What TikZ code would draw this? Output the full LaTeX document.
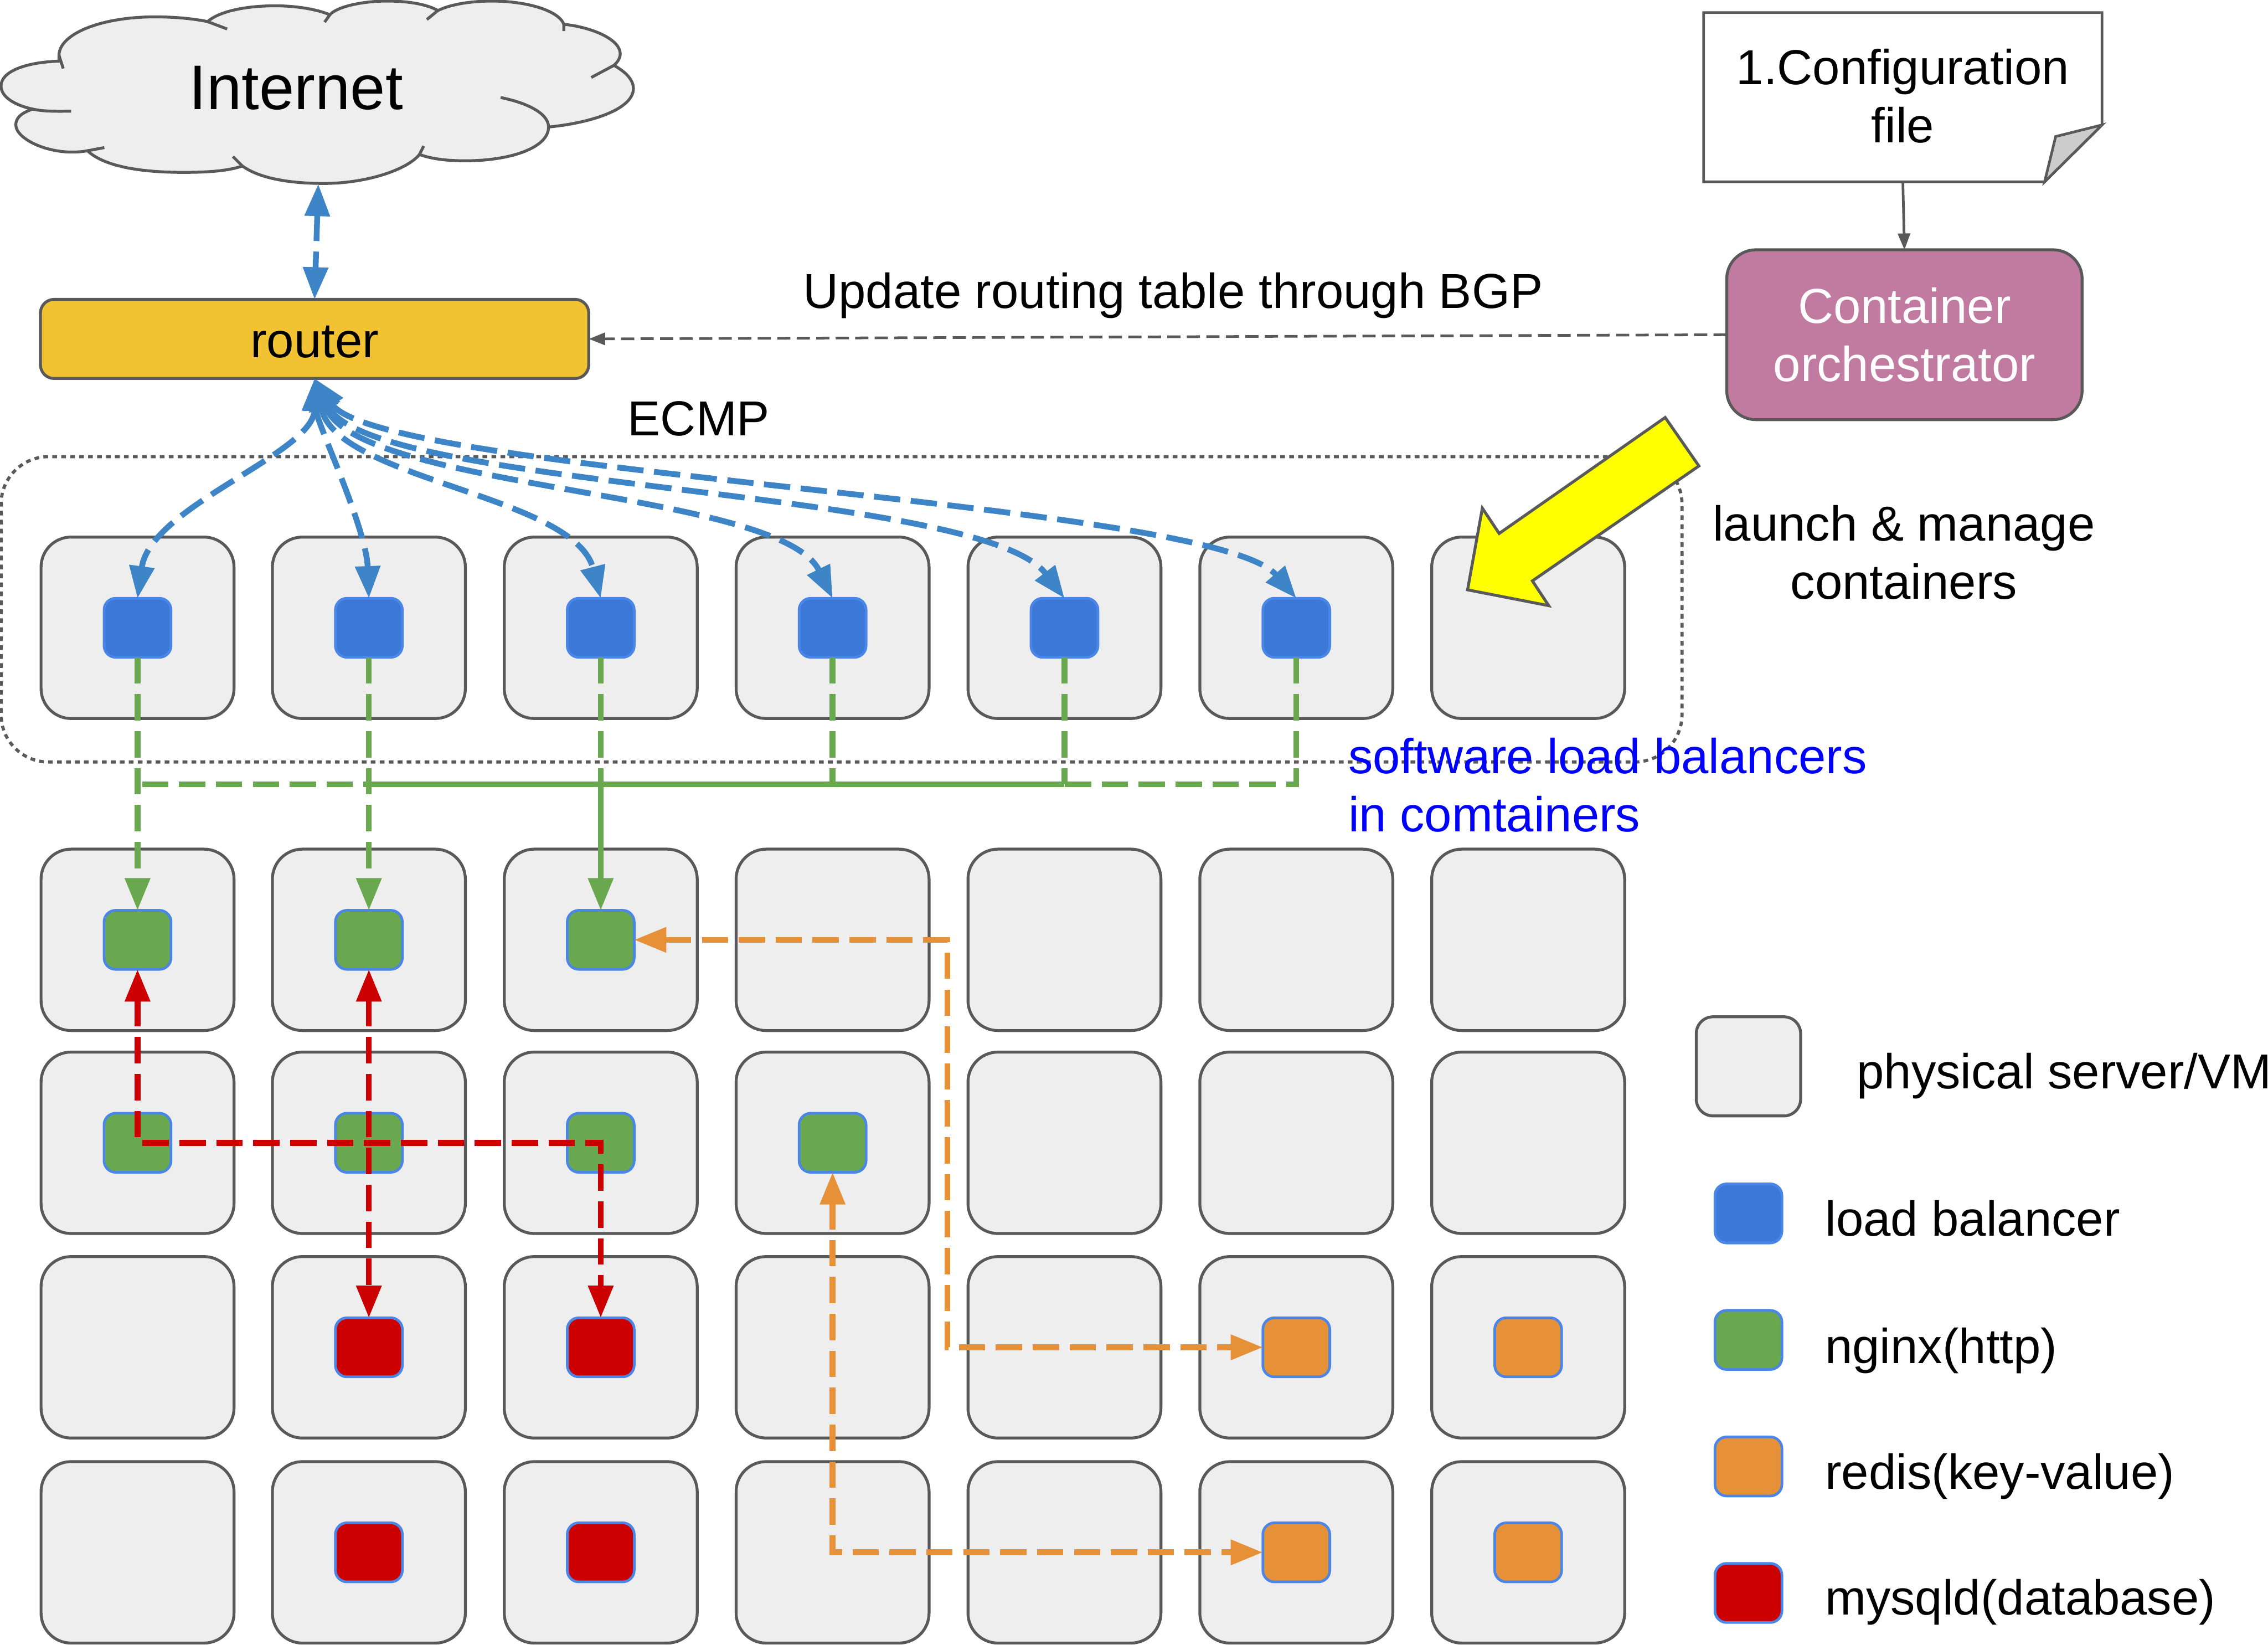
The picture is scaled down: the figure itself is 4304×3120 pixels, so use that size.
\documentclass[tikz,border=0pt]{standalone}
\usepackage{fontspec}
\setmainfont{Liberation Sans}
\definecolor{grisSrv}{HTML}{EEEEEE}
\definecolor{grisLine}{HTML}{595959}
\definecolor{azulLB}{HTML}{3C78D8}
\definecolor{azulBorde}{HTML}{4A86E8}
\definecolor{azulArr}{HTML}{3D85C6}
\definecolor{azulTxt}{HTML}{0000FF}
\definecolor{verdeNg}{HTML}{6AA84F}
\definecolor{rojoDb}{HTML}{CC0000}
\definecolor{naranjaRd}{HTML}{E69138}
\definecolor{amarilloRt}{HTML}{F1C232}
\definecolor{amarilloFl}{HTML}{FFFF00}
\definecolor{moradoOr}{HTML}{C27BA0}
\usetikzlibrary{arrows.meta, positioning}

\begin{document}
\begin{tikzpicture}[
  x=0.01cm, y=-0.01cm,
  server/.style={rectangle, rounded corners=0.57cm, draw=grisLine, fill=grisSrv,
                 line width=0.055cm, minimum width=3.66cm, minimum height=3.44cm, outer sep=0pt},
  box/.style={rectangle, rounded corners=0.22cm, draw=azulBorde, line width=0.05cm,
              minimum width=1.27cm, minimum height=1.12cm, outer sep=0pt},
  lbbox/.style={box, fill=azulLB},
  ngbox/.style={box, fill=verdeNg},
  rdbox/.style={box, fill=naranjaRd},
  mybox/.style={box, fill=rojoDb},
  lbl/.style={inner sep=0pt, font=\fontsize{26.5}{31.3}\selectfont, align=center},
  legtxt/.style={inner sep=0pt, anchor=base west, font=\fontsize{26.5}{31.3}\selectfont},
  flow/.style={line width=0.11cm, dash pattern=on 0.5cm off 0.2cm},
  flowarr/.style={flow, {Triangle[length=0.61cm,width=0.46cm]}-{Triangle[length=0.61cm,width=0.46cm]}},
  lbarr/.style={flowarr, color=azulArr},
  ngline/.style={flow, color=verdeNg},
  ngarr/.style={ngline, -{Triangle[length=0.61cm,width=0.46cm]}},
  dbarr/.style={flowarr, color=rojoDb},
  rdarr/.style={flowarr, color=naranjaRd},
  ctlarr/.style={-{Triangle[length=0.31cm,width=0.23cm]}, line width=0.05cm, color=grisLine}
]
  \useasboundingbox (0,0) rectangle (4304,3120);

  % Internet
  \draw[draw=grisLine, fill=grisSrv, line width=0.055cm]
    (112,116) .. controls (50,118) and (2,135) .. (2,163)
    .. controls (2,185) and (30,200) .. (62,207)
    .. controls (38,215) and (30,225) .. (30,237)
    .. controls (30,265) and (100,298) .. (166,286)
    .. controls (200,318) and (275,327) .. (348,327)
    .. controls (390,327) and (430,325) .. (460,315)
    .. controls (495,340) and (555,348) .. (614,348)
    .. controls (700,348) and (775,320) .. (796,293)
    .. controls (820,302) and (850,305) .. (883,305)
    .. controls (970,305) and (1041,280) .. (1041,241)
    .. controls (1130,232) and (1202,205) .. (1202,168)
    .. controls (1202,150) and (1185,135) .. (1165,124)
    .. controls (1172,118) and (1177,110) .. (1177,102)
    .. controls (1177,75) and (1125,52) .. (1070,46)
    .. controls (1060,20) and (1000,2) .. (933,2)
    .. controls (895,2) and (855,8) .. (831,20)
    .. controls (810,8) and (775,2) .. (734,2)
    .. controls (690,2) and (640,12) .. (626,28)
    .. controls (600,17) and (560,11) .. (522,11)
    .. controls (465,11) and (415,22) .. (394,41)
    .. controls (365,35) and (330,32) .. (294,32)
    .. controls (190,32) and (112,65) .. (112,105) -- cycle;
  \draw[draw=grisLine, line width=0.055cm]
    (112,105) -- (120,130)
    (62,207) .. controls (85,212) and (110,211) .. (135,211)
    (166,286) -- (198,280)
    (460,315) -- (442,297)
    (796,293) -- (804,277)
    (1041,241) .. controls (1041,215) and (1000,195) .. (950,185)
    (1165,124) -- (1122,147)
    (1070,46) -- (1070,59)
    (831,20) -- (810,37)
    (626,28) -- (616,42)
    (394,41) -- (431,55);
  \node[inner sep=0pt, anchor=base, font=\fontsize{34}{40}\selectfont] (internet) at (562,208) {Internet};
  \coordinate (cloudb) at (604,349);

  % Router y orquestador
  \node[rectangle, rounded corners=0.26cm, draw=grisLine, fill=amarilloRt, line width=0.055cm,
        minimum width=10.4cm, minimum height=1.5cm, outer sep=0pt, text height=0.7cm, text depth=0cm, font=\fontsize{26.5}{31.3}\selectfont] (router) at (597,643) {router};
  \draw[draw=grisLine, fill=white, line width=0.05cm] (3233,24) -- (3989,24) -- (3989,237) -- (3880,345) -- (3233,345) -- cycle;
  \draw[draw=grisLine, fill=black!20, line width=0.05cm] (3989,237) -- (3901,259) -- (3880,345) -- cycle;
  \node[lbl, minimum width=7.56cm, minimum height=3.21cm, text depth=0.03cm] (config) at (3611,183) {1.Configuration\\file};
  \node[rectangle, rounded corners=0.55cm, draw=grisLine, fill=moradoOr, line width=0.055cm,
        minimum width=6.74cm, minimum height=3.22cm, outer sep=0pt, text=white, align=center,
        font=\fontsize{26.5}{31.3}\selectfont] (orch) at (3614,635) {Container\\orchestrator};

  % Grupo de balanceadores
  \node[rectangle, rounded corners=0.9cm, draw=grisLine, line width=0.06cm, dash pattern=on 0.09cm off 0.08cm,
        minimum width=31.88cm, minimum height=5.79cm, outer sep=0pt] (lbgroup) at (1597,1156) {};

  % Servidores
  \foreach \r/\y in {1/1191,2/1783,3/2168,4/2556,5/2945}
    \foreach \c/\x in {1/261,2/700,3/1140,4/1580,5/2020,6/2460,7/2900}
      \node[server] (srv\r\c) at (\x,\y) {};

  % Contenedores
  \foreach \c in {1,...,6} \node[lbbox] (lb\c) at (srv1\c) {};
  \foreach \c in {1,2,3} \node[ngbox] (ngt\c) at (srv2\c) {};
  \foreach \c in {1,...,4} \node[ngbox] (ngm\c) at (srv3\c) {};
  \foreach \r in {4,5} {
    \foreach \c in {2,3} \node[mybox] (my\r\c) at (srv\r\c) {};
    \foreach \c in {6,7} \node[rdbox] (rd\r\c) at (srv\r\c) {};
  }

  % Conectores superiores
  \draw[lbarr] (cloudb) -- (router.north);
  \draw[ctlarr, dash pattern=on 0.25cm off 0.12cm] (orch.west) -- (router.east);
  \draw[ctlarr] (config.south) -- (orch.north);
  \draw[lbarr] (router.south) .. controls (597,860) and (285,960) .. (lb1.north);
  \draw[lbarr] (router.south) .. controls (600,800) and (695,1000) .. (lb2.north);
  \draw[lbarr] (router.south) .. controls (640,910) and (1090,940) .. (lb3.north);
  \draw[lbarr] (router.south) .. controls (680,930) and (1480,930) .. (lb4.north);
  \draw[lbarr] (router.south) .. controls (700,930) and (1860,925) .. (lb5.north);
  \draw[lbarr] (router.south) .. controls (720,900) and (2300,950) .. (lb6.north);

  % Bus verde
  \foreach \c in {1,...,6} \coordinate (bus\c) at (srv1\c |- 0,1488);
  \draw[ngarr] (lb1.south) -- (ngt1.north);
  \draw[ngarr] (lb2.south) -- (ngt2.north);
  \draw[ngline] (lb3.south) -- (bus3);
  \draw[ngarr, solid] (bus3) -- (ngt3.north);
  \draw[ngline] (lb4.south) -- (bus4);
  \draw[ngline] (lb5.south) -- (bus5);
  \draw[ngline] (lb6.south) -- (bus6) -- (bus1);
  \draw[ngline, solid] (bus2) -- (bus5);

  % Redis y mysql
  \draw[rdarr] (ngt3.east) -| (1798,2556) -- (rd46.west);
  \draw[rdarr] (ngm4.south) |- (rd56.west);
  \draw[dbarr] (ngt1.south) |- (1140,2168) -- (my43.north);
  \draw[dbarr] (ngt2.south) -- (my42.north);

  % Flecha amarilla
  \draw[draw=grisLine, fill=amarilloFl, line width=0.055cm] (2785,1119) -- (2813,964) -- (2845,1012) -- (3160,792)
    -- (3224,884) -- (2908,1102) -- (2939,1149) -- cycle;

  % Etiquetas
  \node[lbl, anchor=base] (bgp) at (2226,585) {Update routing table through BGP};
  \node[lbl, anchor=base] (ecmp) at (1326,826) {ECMP};
  \node[lbl] (launch) at (3613,1048) {launch \& manage\\containers};
  \node[lbl, anchor=west, align=left, text=azulTxt] (swlb) at (2558,1489) {software load balancers\\in comtainers};

  % Leyenda
  \node[server, rounded corners=0.32cm, minimum width=1.98cm, minimum height=1.88cm] (legsrv) at (3318,2023) {};
  \node[lbbox] (leglb) at (3318,2302) {};
  \node[ngbox] (legng) at (3318,2542) {};
  \node[rdbox] (legrd) at (3318,2782) {};
  \node[mybox] (legmy) at (3318,3022) {};
  \node[legtxt] (txtsrv) at (3523,2065) {physical server/VM};
  \node[legtxt] (txtlb) at (3463,2345) {load balancer};
  \node[legtxt] (txtng) at (3463,2586) {nginx(http)};
  \node[legtxt] (txtrd) at (3463,2825) {redis(key-value)};
  \node[legtxt] (txtmy) at (3463,3064) {mysqld(database)};
\end{tikzpicture}
\end{document}
